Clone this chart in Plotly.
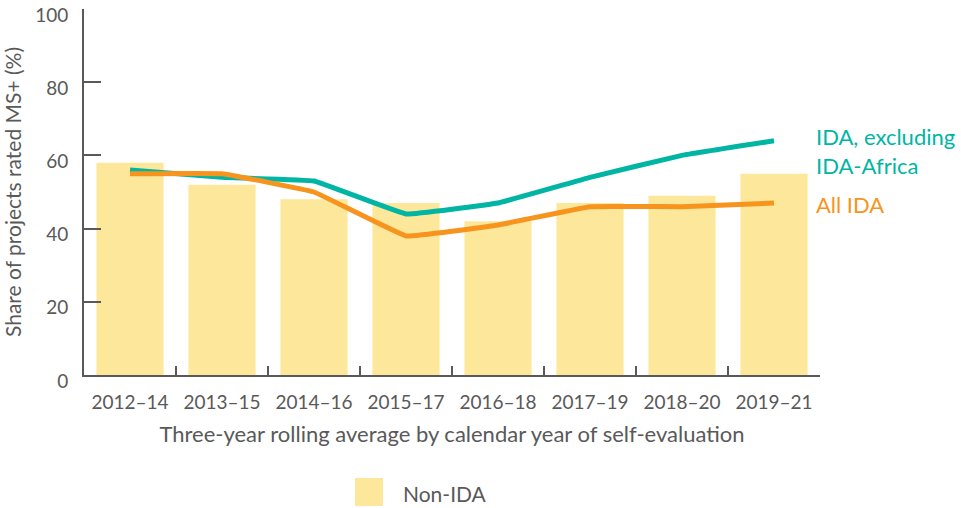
import plotly.graph_objects as go

categories = ["2012–14", "2013–15", "2014–16", "2015–17", "2016–18", "2017–19", "2018–20", "2019–21"]
non_ida = [58, 52, 48, 47, 42, 47, 49, 55]
ida_ex_africa = [56, 54, 53, 44, 47, 54, 60, 64]
all_ida = [55, 55, 50, 38, 41, 46, 46, 47]
legend_label = "Non-IDA"

FONT = "Lato"
GRAY = "#595959"
TEAL = "#00B5A3"
ORANGE = "#F7941D"
YELLOW = "#FDE79A"

fig = go.Figure()
fig.add_trace(go.Bar(x=categories, y=non_ida, name=legend_label, marker_color=YELLOW,
                     marker_line_width=0, width=0.73, showlegend=False))
fig.add_trace(go.Scatter(x=categories, y=ida_ex_africa, mode="lines", name="IDA, excluding IDA-Africa",
                         line=dict(color=TEAL, width=5, shape="spline", smoothing=0.2), showlegend=False))
fig.add_trace(go.Scatter(x=categories, y=all_ida, mode="lines", name="All IDA",
                         line=dict(color=ORANGE, width=5, shape="spline", smoothing=0.2), showlegend=False))

fig.add_annotation(x=1, xref="paper", xanchor="left", xshift=-6, y=ida_ex_africa[-1], yref="y",
                   yanchor="middle", yshift=-10, text="IDA, excluding<br>IDA-Africa", showarrow=False,
                   align="left", font=dict(family=FONT, size=22, color=TEAL))
fig.add_annotation(x=1, xref="paper", xanchor="left", xshift=-6, y=all_ida[-1], yref="y",
                   yanchor="middle", yshift=-2, text="All IDA", showarrow=False,
                   align="left", font=dict(family=FONT, size=22, color=ORANGE))

# legend (manual, to match large swatch)
fig.add_shape(type="rect", xref="paper", yref="paper", x0=(355 - 84) / 736, x1=(383 - 84) / 736,
              y0=-(506 - 375) / 366, y1=-(478 - 375) / 366, fillcolor=YELLOW, line_width=0)
fig.add_annotation(x=(401 - 84) / 736, xref="paper", xanchor="left", y=-(493 - 375) / 366, yref="paper",
                   yanchor="middle", text=legend_label, showarrow=False,
                   font=dict(family=FONT, size=21, color=GRAY))

fig.update_layout(
    width=961, height=508,
    margin=dict(l=84, r=141, t=9, b=133),
    plot_bgcolor="white", paper_bgcolor="white",
    font=dict(family=FONT, size=19, color=GRAY),
    showlegend=False,
    xaxis=dict(type="category", range=[-0.5, 7.5], showline=True, linecolor=GRAY, linewidth=2,
               ticks="inside", tickson="boundaries", ticklen=9, tickcolor=GRAY, tickwidth=2,
               showgrid=False, automargin=False, ticklabelstandoff=9,
               tickfont=dict(family=FONT, size=19, color=GRAY),
               title=dict(text="Three-year rolling average by calendar year of self-evaluation",
                          font=dict(family=FONT, size=22, color=GRAY), standoff=15)),
    yaxis=dict(range=[0, 100], showline=True, linecolor=GRAY, linewidth=2, tickvals=[0, 20, 40, 60, 80, 100],
               ticks="inside", ticklen=17, tickcolor=GRAY, tickwidth=2, showgrid=False, zeroline=False,
               automargin=False, ticklabeloverflow="allow", ticklabelstandoff=10, ticklabelshift=6,
               tickfont=dict(family=FONT, size=19, color=GRAY),
               title=dict(text="Share of projects rated MS+ (%)", font=dict(family=FONT, size=21, color=GRAY),
                          standoff=12)),
)

fig.write_html("out.html", config={"displayModeBar": False},
               post_script="document.body.style.margin='0';")
